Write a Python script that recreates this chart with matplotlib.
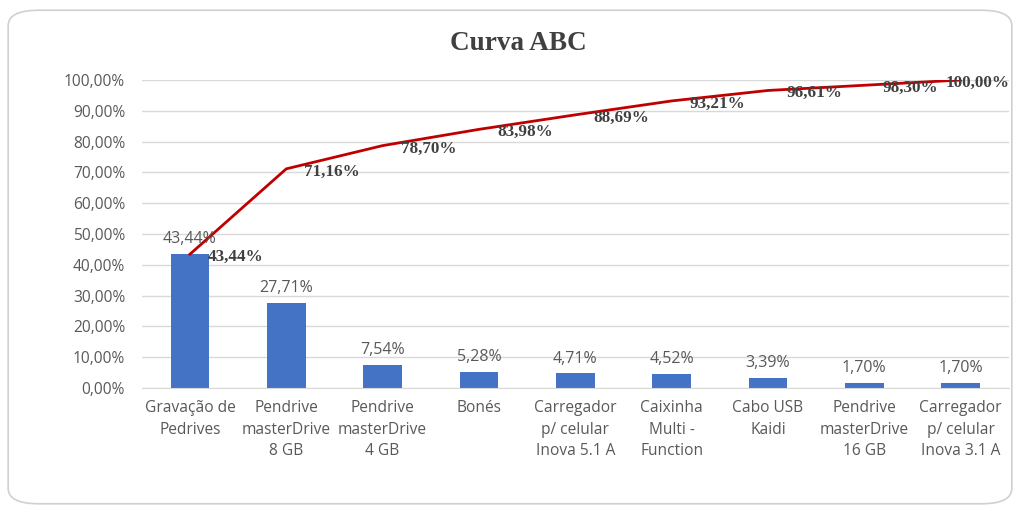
import matplotlib
matplotlib.use("Agg")
import matplotlib.pyplot as plt
from matplotlib.patches import FancyBboxPatch
from matplotlib.ticker import FuncFormatter

categories = ["Gravação de\nPedrives", "Pendrive\nmasterDrive\n8 GB", "Pendrive\nmasterDrive\n4 GB",
              "Bonés", "Carregador\np/ celular\nInova 5.1 A", "Caixinha\nMulti -\nFunction",
              "Cabo USB\nKaidi", "Pendrive\nmasterDrive\n16 GB", "Carregador\np/ celular\nInova 3.1 A"]
pct = [43.44, 27.71, 7.54, 5.28, 4.71, 4.52, 3.39, 1.70, 1.70]
cum = [43.44, 71.16, 78.70, 83.98, 88.69, 93.21, 96.61, 98.30, 100.00]

def br(v):
    return f"{v:.2f}%".replace(".", ",")

sans = ["Open Sans", "DejaVu Sans"]
serif = ["Liberation Serif", "DejaVu Serif"]
gray = "#595959"

fig = plt.figure(figsize=(10.2, 5.13), dpi=100)
fig.patch.set_facecolor("white")
border = FancyBboxPatch((0.008, 0.018), 0.984, 0.962, boxstyle="round,pad=0,rounding_size=0.03",
                        transform=fig.transFigure, facecolor="none", edgecolor="#D0D0D0", lw=1.2,
                        zorder=-1)
fig.patches.append(border)

ax = fig.add_axes([0.139, 0.2437, 0.85, 0.6003])
ax.patch.set_alpha(0)
x = list(range(len(categories)))
ax.bar(x, [p / 100 for p in pct], width=0.4, color="#4472C4", zorder=2)
ax.plot(x, [c / 100 for c in cum], color="#C00000", lw=2, zorder=3)

for xi, p in zip(x, pct):
    ax.annotate(br(p), (xi, p / 100), xytext=(0, 5), textcoords="offset points",
                ha="center", va="bottom", fontsize=11.5, color=gray, family=sans)
for xi, c in zip(x, cum):
    dx = 13 if xi < len(x) - 1 else -11
    ax.annotate(br(c), (xi, c / 100), xytext=(dx, -2), textcoords="offset points",
                ha="left", va="center", fontsize=12.3, color="#404040", family=serif,
                fontweight="bold", annotation_clip=False, zorder=4)

ax.set_xlim(-0.5, len(categories) - 0.5)
ax.set_ylim(0, 1.0)
ax.set_yticks([i / 10 for i in range(11)])
ax.yaxis.set_major_formatter(FuncFormatter(lambda v, _: br(v * 100)))
ax.set_xticks(x)
ax.set_xticklabels(categories, fontsize=11.2, color=gray, family=sans, linespacing=1.45)
for lab in ax.get_yticklabels():
    lab.set_family(sans)
    lab.set_fontsize(11.2)
    lab.set_color(gray)
ax.tick_params(axis="x", length=0, pad=9)
ax.tick_params(axis="y", length=0, pad=12)
ax.grid(axis="y", color="#D9D9D9", lw=1, zorder=0)
ax.set_axisbelow(True)
for s in ax.spines.values():
    s.set_visible(False)
ax.spines["bottom"].set_visible(True)
ax.spines["bottom"].set_color("#D9D9D9")

fig.text(0.508, 0.915, "Curva ABC", ha="center", va="center", fontsize=19.5,
         fontweight="bold", color="#404040", family=serif)

fig.savefig("out.png", dpi=100)
